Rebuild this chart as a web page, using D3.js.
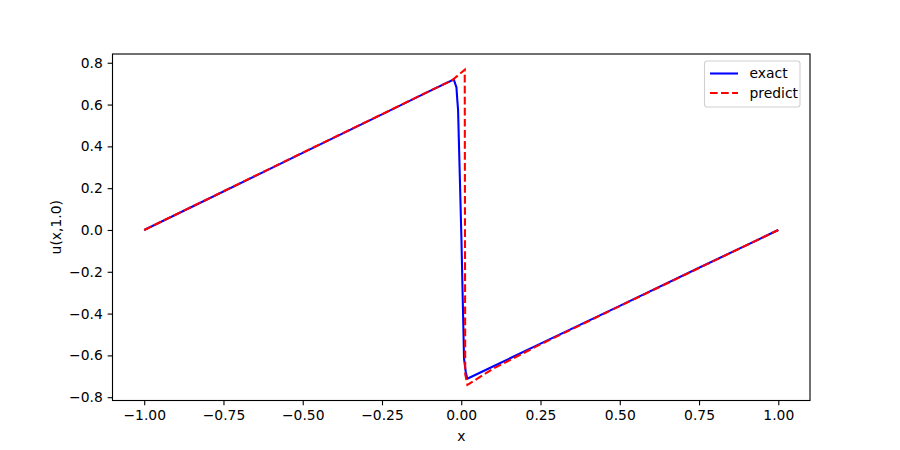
<!DOCTYPE html>
<html>
<head>
<meta charset="utf-8">
<script src="https://cdn.jsdelivr.net/npm/d3@7"></script>
<style>
  body { margin: 0; background: #fff; }
  text { font-family: "DejaVu Sans", sans-serif; }
</style>
</head>
<body>
<svg id="chart" width="900" height="450"></svg>
<script>
// values
var exactX = [-1.0, -0.75, -0.5, -0.25, -0.1, -0.0236, -0.0151, -0.0126, -0.0101, -0.0047, 0.0006, 0.0047, 0.0088, 0.0142, 0.0189, 0.1, 0.25, 0.5, 0.75, 1.0];
var exactU = [0.0, 0.184, 0.369, 0.553, 0.664, 0.720, 0.682, 0.625, 0.577, 0.266, -0.044, -0.330, -0.617, -0.679, -0.712, -0.653, -0.544, -0.363, -0.181, 0.0];
var predX = [-1.0, -0.75, -0.5, -0.25, -0.1, -0.027, 0.011, 0.0125, 0.0195, 0.1, 0.25, 0.5, 0.75, 1.0];
var predU = [0.0, 0.185, 0.370, 0.554, 0.665, 0.718, 0.767, -0.690, -0.741, -0.664, -0.547, -0.364, -0.182, 0.0];
var xTicks = [-1.0, -0.75, -0.5, -0.25, 0.0, 0.25, 0.5, 0.75, 1.0];
var yTicks = [-0.8, -0.6, -0.4, -0.2, 0.0, 0.2, 0.4, 0.6, 0.8];
var seriesNames = ["exact", "predict"];

var svg = d3.select("#chart");
var pLeft = 112.5, pRight = 810, pTop = 54, pBottom = 400.5;
var lw = 2.08, dash = "7.7,3.33";

var x = d3.scaleLinear().domain([-1.1, 1.1]).range([pLeft, pRight]);
var y = d3.scaleLinear().domain([-0.8158, 0.8419]).range([pBottom, pTop]);

var fmtY = function(d) { return d3.format(".1f")(d).replace("-", "\u2212"); };
var fmtX = function(d) { return d3.format(".2f")(d).replace("-", "\u2212"); };

svg.append("clipPath").attr("id", "clip")
    .append("rect").attr("x", pLeft).attr("y", pTop)
    .attr("width", pRight - pLeft).attr("height", pBottom - pTop);

var line = d3.line()
    .x(function(d) { return x(d[0]); })
    .y(function(d) { return y(d[1]); });

var plot = svg.append("g").attr("clip-path", "url(#clip)");

plot.append("path")
    .datum(d3.zip(exactX, exactU))
    .attr("d", line)
    .attr("fill", "none")
    .attr("stroke", "#0000ff")
    .attr("stroke-width", lw)
    .attr("stroke-linejoin", "round");

plot.append("path")
    .datum(d3.zip(predX, predU))
    .attr("d", line)
    .attr("fill", "none")
    .attr("stroke", "#ff0000")
    .attr("stroke-width", lw)
    .attr("stroke-dasharray", dash);

// axes
var xAxis = svg.append("g")
    .attr("transform", "translate(0," + pBottom + ")")
    .call(d3.axisBottom(x).tickValues(xTicks).tickFormat(fmtX).tickSize(4.86).tickPadding(4.86));
var yAxis = svg.append("g")
    .attr("transform", "translate(" + pLeft + ",0)")
    .call(d3.axisLeft(y).tickValues(yTicks).tickFormat(fmtY).tickSize(4.86).tickPadding(4.86));

[xAxis, yAxis].forEach(function(a) {
    a.select(".domain").remove();
    a.selectAll("line").attr("stroke", "#000").attr("stroke-width", 1.11);
    a.selectAll("text").attr("fill", "#000").style("font-size", "13.89px")
        .style("font-family", "DejaVu Sans, sans-serif");
});

svg.append("rect")
    .attr("x", pLeft).attr("y", pTop)
    .attr("width", pRight - pLeft).attr("height", pBottom - pTop)
    .attr("fill", "none").attr("stroke", "#000").attr("stroke-width", 1.11);

svg.append("text")
    .attr("x", (pLeft + pRight) / 2).attr("y", 441)
    .attr("text-anchor", "middle")
    .style("font-size", "13.89px")
    .text("x");

svg.append("text")
    .attr("transform", "translate(61," + ((pTop + pBottom) / 2) + ") rotate(-90)")
    .attr("text-anchor", "middle")
    .style("font-size", "13.89px")
    .text("u(x,1.0)");

// legend
var lg = svg.append("g").attr("transform", "translate(704.5,61)");
lg.append("rect")
    .attr("width", 95.5).attr("height", 46)
    .attr("rx", 2.5)
    .attr("fill", "#fff").attr("fill-opacity", 0.8)
    .attr("stroke", "#d0d0d0").attr("stroke-width", 1.11);

var items = lg.selectAll("g.item").data(seriesNames).enter().append("g")
    .attr("class", "item")
    .attr("transform", function(d, i) { return "translate(0," + (12.5 + i * 19.5) + ")"; });
items.append("line")
    .attr("x1", 5.5).attr("x2", 33.5)
    .attr("stroke", function(d, i) { return i == 0 ? "#0000ff" : "#ff0000"; })
    .attr("stroke-width", lw)
    .attr("stroke-dasharray", function(d, i) { return i == 0 ? null : dash; });
items.append("text")
    .attr("x", 45).attr("y", 4.9)
    .style("font-size", "13.89px")
    .text(function(d) { return d; });
</script>
</body>
</html>
